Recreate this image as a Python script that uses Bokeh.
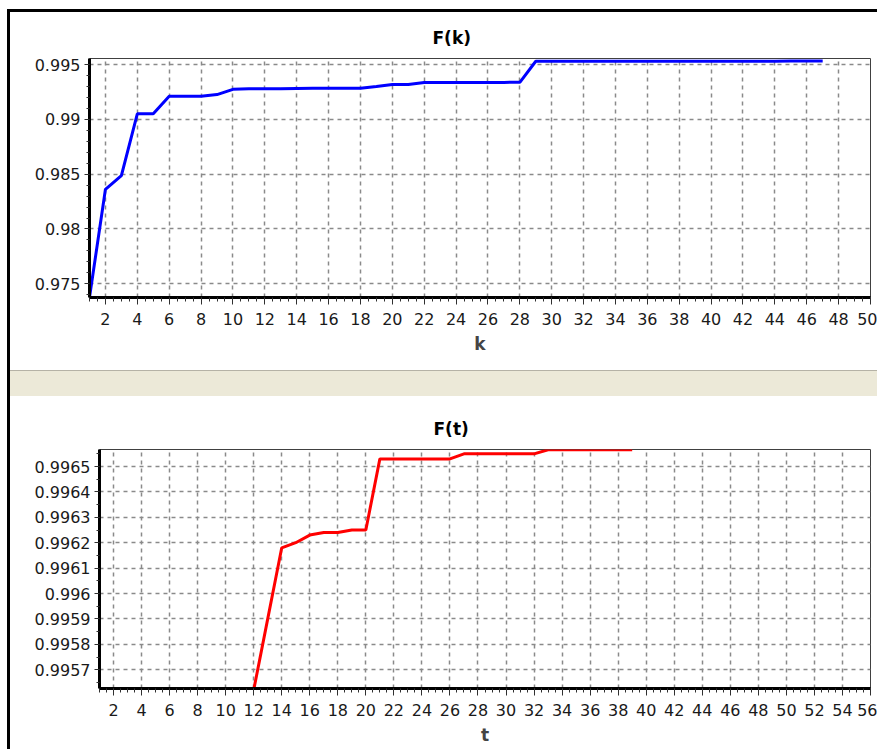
from bokeh.plotting import figure
from bokeh.layouts import column, row
from bokeh.models import FixedTicker, Range1d, Div, Spacer
from bokeh.embed import file_html
from bokeh.resources import INLINE

# ---------------- data ----------------
K = list(range(1, 48))
FK = [0.97375, 0.98362, 0.98487, 0.99050, 0.99050, 0.99211, 0.99211, 0.99211,
      0.99226, 0.99274, 0.99278, 0.99278, 0.99280, 0.99282, 0.99283, 0.99283,
      0.99283, 0.99284, 0.99300, 0.99318, 0.99318, 0.99336, 0.99337, 0.99337,
      0.99337, 0.99337, 0.99337, 0.99338, 0.99530, 0.99530, 0.99530, 0.99530,
      0.99530, 0.99530, 0.99530, 0.99530, 0.99530, 0.99530, 0.99530, 0.99530,
      0.99530, 0.99530, 0.99530, 0.99530, 0.99532, 0.99532, 0.99532]

T = list(range(12, 40))
FT = [0.99562, 0.99590, 0.99618, 0.99620, 0.99623, 0.99624, 0.99624, 0.99625,
      0.99625, 0.99653, 0.99653, 0.99653, 0.99653, 0.99653, 0.99653, 0.99655,
      0.99655, 0.99655, 0.99655, 0.99655, 0.99655, 0.996566, 0.996566, 0.996566,
      0.996566, 0.996566, 0.996566, 0.996566]

K_TICKS = [2, 4, 6, 8, 10, 12, 14, 16, 18, 20, 22, 24, 26, 28, 30, 32, 34, 36,
           38, 40, 42, 44, 46, 48, 50]
T_TICKS = [2, 4, 6, 8, 10, 12, 14, 16, 18, 20, 22, 24, 26, 28, 30, 32, 34, 36,
           38, 40, 42, 44, 46, 48, 50, 52, 54, 56]
FK_TICKS = [0.975, 0.98, 0.985, 0.99, 0.995]
FK_LABELS = ["0.975", "0.98", "0.985", "0.99", "0.995"]
FT_TICKS = [0.9957, 0.9958, 0.9959, 0.996, 0.9961, 0.9962, 0.9963, 0.9964, 0.9965]
FT_LABELS = ["0.9957", "0.9958", "0.9959", "0.996", "0.9961", "0.9962",
             "0.9963", "0.9964", "0.9965"]
FK_RANGE = (0.97375, 0.99555)
FT_RANGE = (0.995626, 0.996567)

FONT = "DejaVu Sans"


def minor_list(start, stop, step):
    out = []
    v = start
    while v <= stop + step * 0.01:
        out.append(round(v, 7))
        v += step
    return out


def make_chart(title, xlabel, x, y, color, xr, yr, xt, yt, ylabels, yminor_step,
               w, h, bl, bt, bb, toff):
    p = figure(width=w, height=h, x_range=Range1d(*xr), y_range=Range1d(*yr),
               toolbar_location=None, output_backend="svg",
               min_border_left=bl, min_border_right=7, min_border_top=bt,
               min_border_bottom=bb, background_fill_color="white",
               border_fill_color="white", outline_line_color="#404040",
               outline_line_width=1, title=title)
    p.title.align = "left"
    p.title.offset = toff
    p.title.standoff = 22
    p.title.text_font = FONT
    p.title.text_font_size = "17px"
    p.title.text_font_style = "bold"
    p.title.text_color = "black"

    p.line(x, y, line_color=color, line_width=3)

    p.xaxis.ticker = FixedTicker(ticks=xt, minor_ticks=minor_list(xr[0], xr[1], 0.5))
    p.yaxis.ticker = FixedTicker(ticks=yt, minor_ticks=minor_list(yr[0] - yr[0] % yminor_step, yr[1], yminor_step))
    p.yaxis.major_label_overrides = dict(zip(yt, ylabels))

    for ax in (p.xaxis[0], p.yaxis[0]):
        ax.axis_line_color = "black"
        ax.axis_line_width = 3
        ax.major_tick_line_color = "#303030"
        ax.minor_tick_line_color = "#303030"
        ax.major_tick_in = 0
        ax.minor_tick_in = 0
        ax.major_label_text_font = FONT
        ax.major_label_text_font_size = "16px"
        ax.major_label_text_color = "#1a1a1a"
    p.xaxis.major_tick_out = 7
    p.xaxis.minor_tick_out = 4
    p.xaxis.major_label_standoff = 8
    p.yaxis.major_tick_out = 5
    p.yaxis.minor_tick_out = 3
    p.yaxis.major_label_standoff = 4
    p.xaxis.axis_label = xlabel
    p.xaxis.axis_label_text_font = FONT
    p.xaxis.axis_label_text_font_size = "17px"
    p.xaxis.axis_label_text_font_style = "bold"
    p.xaxis.axis_label_standoff = 6

    for g in (p.xgrid[0], p.ygrid[0]):
        g.grid_line_color = "#8a8a8a"
        g.grid_line_dash = "4 4"
        g.grid_line_width = 1.5
    return p


def box(w, h, bg):
    return Div(text="", width=w, height=h, margin=0,
               styles={"background": bg, "margin": "0", "padding": "0"})


W = 867
top = make_chart("F(k)", "k", K, FK, "#0000ff", (1, 50), FK_RANGE, K_TICKS,
                 FK_TICKS, FK_LABELS, 0.001, W, 358, 79, 46, 73, 343)
bot = make_chart("F(t)", "t", T, FT, "#ff0000", (1, 56), FT_RANGE, T_TICKS,
                 FT_TICKS, FT_LABELS, 0.00005, W, 353, 89, 53, 61, 334)

band = box(W, 26, "linear-gradient(#B5B2A6 0px, #B5B2A6 1px, #ECE9D8 1px, #ECE9D8 100%)")

charts = column(row(top), band, row(bot), spacing=0)
inner = row(box(3, 737, "black"), charts, spacing=0)
framed = column(box(870, 3, "black"), inner, spacing=0)
layout = column(Spacer(width=877, height=9),
                row(Spacer(width=7, height=740), framed, spacing=0),
                spacing=0)

open("out.html", "w").write(file_html(layout, INLINE))
